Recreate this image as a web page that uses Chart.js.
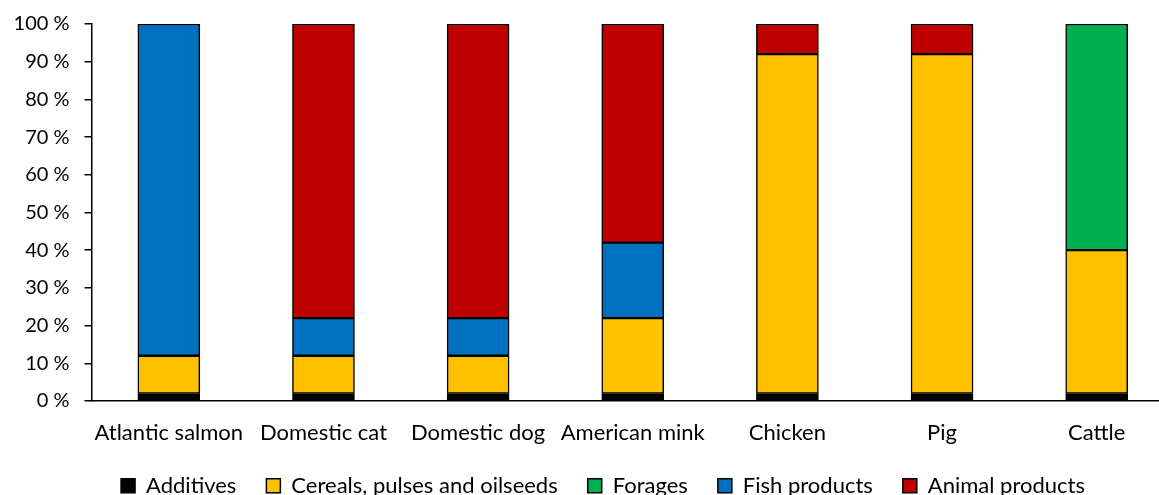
<!DOCTYPE html>
<html>
<head>
<meta charset="utf-8">
<script src="https://cdn.jsdelivr.net/npm/chart.js@4"></script>
<style>
  html, body { margin: 0; padding: 0; background: #fff; overflow: hidden; }
  #wrap { width: 1174px; height: 495px; position: relative; }
</style>
</head>
<body>
<div id="wrap"><canvas id="feedChart"></canvas></div>
<script>
// Share of feed ingredients per species (%)
const species = ['Atlantic salmon', 'Domestic cat', 'Domestic dog', 'American mink', 'Chicken', 'Pig', 'Cattle'];
const additives = [2, 2, 2, 2, 2, 2, 2];
const cereals = [10, 10, 10, 20, 90, 90, 38];
const forages = [0, 0, 0, 0, 0, 0, 60];
const fishProducts = [88, 10, 10, 20, 0, 0, 0];
const animalProducts = [0, 78, 78, 58, 8, 8, 0];
const yTicks = [0, 10, 20, 30, 40, 50, 60, 70, 80, 90, 100];

const FONT = 'Lato, "Open Sans", sans-serif';
const LEGEND_PAD = 30;
const LEGEND_FONT = 22;

function series(label, data, color) {
  return {
    label: label,
    data: data,
    backgroundColor: color,
    borderColor: '#000',
    borderWidth: 1.5,
    borderSkipped: false,
    barThickness: 62
  };
}

// the canvas is a bit wider than the page, so move the legend back under the visible part
const shiftLegend = {
  id: 'shiftLegend',
  afterLayout(chart) {
    const lg = chart.legend;
    const dx = 16;
    const dy = 488 - (lg.top + LEGEND_PAD + LEGEND_FONT * 0.6);
    lg.left += dx;
    lg.right += dx;
    lg.top += dy;
    lg.bottom = chart.height; // legend clips to its box
  }
};

new Chart(document.getElementById('feedChart'), {
  type: 'bar',
  data: {
    labels: species,
    datasets: [
      series('Additives', additives, '#000000'),
      series('Cereals, pulses and oilseeds', cereals, '#FFC000'),
      series('Forages', forages, '#00B050'),
      series('Fish products', fishProducts, '#0070C0'),
      series('Animal products', animalProducts, '#C00000')
    ]
  },
  options: {
    responsive: true,
    maintainAspectRatio: false,
    animation: false,
    layout: { padding: 0 },
    scales: {
      x: {
        stacked: true,
        grid: { display: false },
        border: { color: '#000', width: 1.5 },
        ticks: { color: '#000', font: { family: FONT, size: 22 }, maxRotation: 0, autoSkip: false, padding: 11 },
        afterFit(scale) { scale.height = 58; }
      },
      y: {
        stacked: true,
        min: 0,
        max: 100,
        afterBuildTicks(scale) { scale.ticks = yTicks.map(v => ({ value: v })); },
        grid: { drawOnChartArea: false, color: '#000', lineWidth: 1.5, tickLength: 7 },
        border: { color: '#000', width: 1.5 },
        ticks: { color: '#000', font: { family: FONT, size: 20 }, padding: 15, callback: v => v + ' %' },
        afterFit(scale) {
          scale.width = 91.5;
          scale.paddingTop = 24;
        }
      }
    },
    plugins: {
      legend: {
        position: 'bottom',
        maxHeight: 36,
        labels: {
          color: '#000',
          font: { family: FONT, size: LEGEND_FONT },
          boxWidth: 14,
          boxHeight: 14,
          padding: LEGEND_PAD
        }
      },
      tooltip: { enabled: false }
    }
  },
  plugins: [shiftLegend]
});
</script>
</body>
</html>
